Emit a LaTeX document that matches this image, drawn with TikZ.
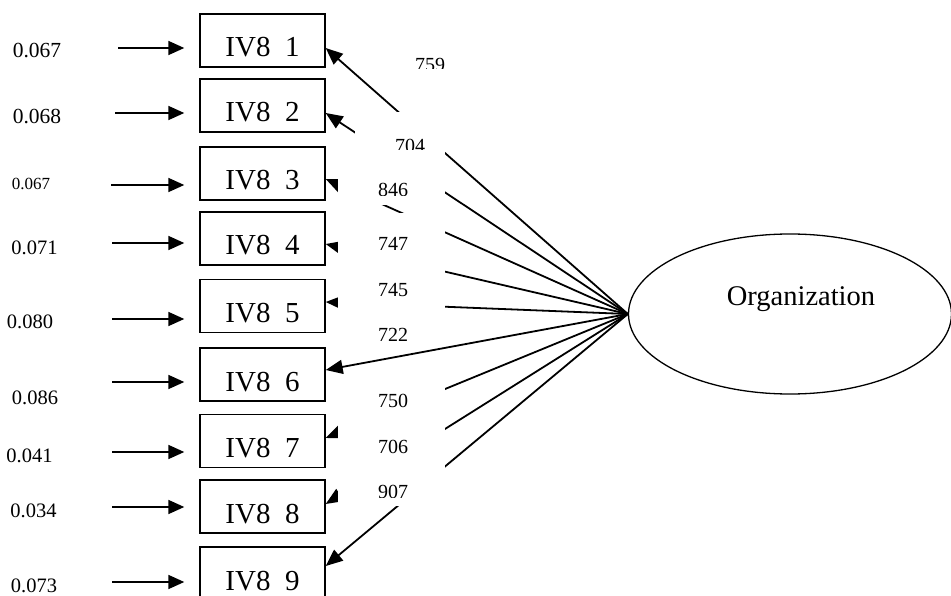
\documentclass[tikz,border=0pt]{standalone}
\usepackage{fontspec}
\setmainfont{Liberation Serif}
\usetikzlibrary{arrows.meta, shapes.geometric}

\tikzset{
    item/.style={draw, line width=1.4pt, minimum width=125pt, minimum height=53pt, inner sep=0pt,
        text height=33pt, text depth=0pt, font=\fontsize{29}{34}\selectfont},
    latent/.style={draw, ellipse, line width=1.3pt, minimum width=323pt, minimum height=160pt, inner sep=0pt},
    errlabel/.style={inner sep=0pt, font=\fontsize{20.5}{24}\selectfont},
    loadlabel/.style={inner sep=0pt, anchor=north west, font=\fontsize{20}{24}\selectfont},
    errarrow/.style={-{Triangle[length=16pt,width=14pt]}, line width=1.8pt, shorten >=15pt},
    loadarrow/.style={-{Triangle[length=17pt,width=14pt]}, line width=1.8pt},
    mask/.style={fill=white, draw=none}
}

\begin{document}
\begin{tikzpicture}[x=1pt, y=-1pt]
    \useasboundingbox (0,0) rectangle (951,596);
    \clip (0,0) rectangle (951,596);

    % indicators
    \node[item] (v1) at (262.5, 40.5) {IV8\ \ 1};
    \node[item] (v2) at (262.5,105.5) {IV8\ \ 2};
    \node[item] (v3) at (262.5,173.5) {IV8\ \ 3};
    \node[item] (v4) at (262.5,238.5) {IV8\ \ 4};
    \node[item] (v5) at (262.5,306)   {IV8\ \ 5};
    \node[item] (v6) at (262.5,374.5) {IV8\ \ 6};
    \node[item] (v7) at (262.5,441)   {IV8\ \ 7};
    \node[item] (v8) at (262.5,506.5) {IV8\ \ 8};
    \node[item] (v9) at (262.5,573.5) {IV8\ \ 9};

    % factor
    \node[latent, label={[xshift=11pt, yshift=15pt, font=\fontsize{28.5}{34}\selectfont]center:Organization}] (org) at (790,314) {};

    % error terms
    \node[errlabel, font=\fontsize{21.5}{26}\selectfont] (e1) at (37,51)  {0.067};
    \node[errlabel, font=\fontsize{21.5}{26}\selectfont] (e2) at (37,117) {0.068};
    \node[errlabel, font=\fontsize{17}{20}\selectfont]   (e3) at (31,184) {0.067};
    \node[errlabel] (e4) at (34.5,248) {0.071};
    \node[errlabel] (e5) at (30,322)   {0.080};
    \node[errlabel] (e6) at (35,398)   {0.086};
    \node[errlabel] (e7) at (29.5,456) {0.041};
    \node[errlabel] (e8) at (33.5,511) {0.034};
    \node[errlabel] (e9) at (34,585.5) {0.073};

    \coordinate (a1) at (118,48);
    \coordinate (a2) at (115,113);
    \coordinate (a3) at (111,185);
    \coordinate (a4) at (112,243);
    \coordinate (a5) at (112,319);
    \coordinate (a6) at (112,382);
    \coordinate (a7) at (112,452);
    \coordinate (a8) at (112,507);
    \coordinate (a9) at (112,582);

    \draw
    (a1) edge[errarrow] (a1 -| v1.west)
    (a2) edge[errarrow] (a2 -| v2.west)
    (a3) edge[errarrow] (a3 -| v3.west)
    (a4) edge[errarrow] (a4 -| v4.west)
    (a5) edge[errarrow] (a5 -| v5.west)
    (a6) edge[errarrow] (a6 -| v6.west)
    (a7) edge[errarrow] (a7 -| v7.west)
    (a8) edge[errarrow] (a8 -| v8.west)
    (a9) edge[errarrow] (a9 -| v9.west);

    % loadings
    \draw
    (org.west) edge[loadarrow] ([yshift=-7.5pt]v1.east)
    (org.west) edge[loadarrow] ([yshift=-7.5pt]v2.east)
    (org.west) edge[loadarrow] ([yshift=-5.5pt]v3.east)
    (org.west) edge[loadarrow] ([yshift=-5.5pt]v4.east)
    (org.west) edge[loadarrow] ([yshift=4pt]v5.east)
    (org.west) edge[loadarrow] ([yshift=3pt]v7.east)
    (org.west) edge[loadarrow] ([yshift=2.5pt]v8.east)
    (org.west) edge[loadarrow] ([yshift=7.5pt]v9.east);

    % text boxes of the loadings
    \fill[mask] (355,112) rectangle (445,150);
    \fill[mask] (338,150) rectangle (445,205);
    \fill[mask] (338,213) rectangle (445,506);

    \foreach \val/\lx/\ly/\cut in {759/415/58/69, 704/395/139/150, 846/378/183/196,
        747/378/237/250, 745/378/283/297, 722/378/328/341, 750/378/394/407,
        706/378/440/453, 907/378/485/497}{
        \begin{scope}
            \clip (\lx-2,\ly-4) rectangle (\lx+40,\cut);
            \node[loadlabel] (w\val) at (\lx,\ly) {\val};
        \end{scope}
    }

    \draw (org.west) edge[loadarrow] ([yshift=4.5pt]v6.east);
\end{tikzpicture}
\end{document}
